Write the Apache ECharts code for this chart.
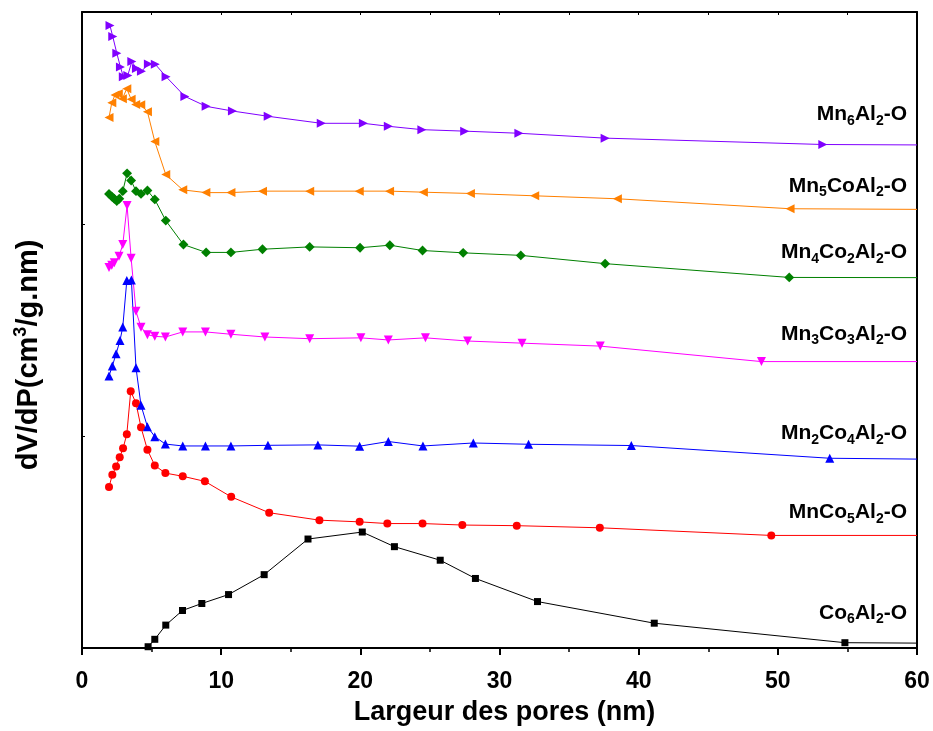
<!DOCTYPE html>
<html><head><meta charset="utf-8">
<script src="https://cdn.jsdelivr.net/npm/echarts@6/dist/echarts.min.js"></script>
<style>html,body{margin:0;padding:0;background:#fff}#c{width:933px;height:731px}</style>
</head><body><div id="c"></div>
<script>
// Pore width (nm) and dV/dP (offset, arbitrary units) per sample
const co6X = [4.75, 5.23, 6.02, 7.22, 8.61, 10.53, 13.09, 16.24, 20.14, 22.45, 25.74, 28.27, 32.73, 41.12, 54.82, 60];
const co6Y = [0.006, 0.041, 0.108, 0.177, 0.210, 0.252, 0.346, 0.514, 0.547, 0.478, 0.414, 0.328, 0.219, 0.117, 0.025, 0.023];

const mnco5X = [1.94, 2.18, 2.45, 2.71, 2.95, 3.22, 3.50, 3.88, 4.24, 4.70, 5.23, 5.99, 7.24, 8.83, 10.72, 13.45, 17.06, 19.95, 21.94, 24.47, 27.33, 31.24, 37.21, 49.53, 60];
const mnco5Y = [0.759, 0.817, 0.856, 0.900, 0.942, 1.008, 1.211, 1.155, 1.041, 0.935, 0.861, 0.825, 0.810, 0.786, 0.713, 0.638, 0.603, 0.595, 0.587, 0.587, 0.580, 0.577, 0.567, 0.531, 0.531];

const mn2co4X = [1.94, 2.18, 2.45, 2.73, 2.93, 3.22, 3.55, 3.88, 4.24, 4.70, 5.23, 5.99, 7.24, 8.87, 10.70, 13.36, 16.95, 19.95, 22.01, 24.50, 28.12, 32.09, 39.47, 53.73, 60];
const mn2co4Y = [1.283, 1.330, 1.388, 1.450, 1.514, 1.733, 1.736, 1.322, 1.145, 1.044, 0.997, 0.962, 0.953, 0.953, 0.953, 0.956, 0.958, 0.952, 0.974, 0.953, 0.967, 0.961, 0.955, 0.895, 0.891];

const mn3co3X = [1.94, 2.14, 2.32, 2.66, 2.93, 3.24, 3.53, 3.88, 4.24, 4.70, 5.23, 5.99, 7.24, 8.87, 10.70, 13.14, 16.36, 20.04, 22.01, 24.68, 27.71, 31.62, 37.24, 48.82, 60];
const mn3co3Y = [1.795, 1.806, 1.817, 1.848, 1.903, 2.087, 1.838, 1.588, 1.513, 1.478, 1.470, 1.467, 1.491, 1.491, 1.480, 1.467, 1.459, 1.463, 1.453, 1.463, 1.448, 1.438, 1.424, 1.351, 1.351];

const mn4co2X = [1.94, 2.14, 2.32, 2.50, 2.68, 2.93, 3.24, 3.53, 3.88, 4.24, 4.70, 5.23, 6.02, 7.29, 8.92, 10.70, 12.97, 16.36, 19.98, 22.12, 24.47, 27.39, 31.53, 37.59, 50.82, 60];
const mn4co2Y = [2.142, 2.130, 2.119, 2.108, 2.119, 2.155, 2.239, 2.205, 2.155, 2.142, 2.158, 2.116, 2.016, 1.903, 1.866, 1.866, 1.881, 1.892, 1.888, 1.900, 1.875, 1.864, 1.852, 1.813, 1.748, 1.747];

const mn5coX = [1.94, 2.14, 2.37, 2.61, 2.90, 3.22, 3.53, 3.86, 4.22, 4.70, 5.23, 6.02, 7.24, 8.90, 10.70, 12.97, 16.36, 19.92, 22.10, 24.53, 27.91, 32.53, 38.47, 50.88, 60];
const mn5coY = [2.502, 2.572, 2.608, 2.614, 2.591, 2.638, 2.588, 2.564, 2.563, 2.530, 2.389, 2.233, 2.161, 2.148, 2.148, 2.155, 2.155, 2.155, 2.155, 2.150, 2.144, 2.133, 2.119, 2.072, 2.069];

const mn6X = [2.01, 2.21, 2.50, 2.76, 2.97, 3.29, 3.58, 3.91, 4.27, 4.77, 5.27, 6.04, 7.39, 8.92, 10.81, 13.38, 17.19, 20.22, 22.01, 24.42, 27.50, 31.39, 37.59, 53.23, 60];
const mn6Y = [2.936, 2.884, 2.806, 2.741, 2.695, 2.701, 2.766, 2.734, 2.720, 2.755, 2.753, 2.695, 2.602, 2.555, 2.533, 2.508, 2.475, 2.475, 2.461, 2.445, 2.438, 2.428, 2.405, 2.375, 2.373];

const seriesNames = ['Co6Al2-O', 'MnCo5Al2-O', 'Mn2Co4Al2-O', 'Mn3Co3Al2-O', 'Mn4Co2Al2-O', 'Mn5CoAl2-O', 'Mn6Al2-O'];
const seriesLabelRich = [
  '{m|Co}{s|6}{m|Al}{s|2}{m|-O}',
  '{m|MnCo}{s|5}{m|Al}{s|2}{m|-O}',
  '{m|Mn}{s|2}{m|Co}{s|4}{m|Al}{s|2}{m|-O}',
  '{m|Mn}{s|3}{m|Co}{s|3}{m|Al}{s|2}{m|-O}',
  '{m|Mn}{s|4}{m|Co}{s|2}{m|Al}{s|2}{m|-O}',
  '{m|Mn}{s|5}{m|CoAl}{s|2}{m|-O}',
  '{m|Mn}{s|6}{m|Al}{s|2}{m|-O}'
];
const labelYValues = [0.165, 0.640, 1.012, 1.481, 1.866, 2.180, 2.517];

const xs = [co6X, mnco5X, mn2co4X, mn3co3X, mn4co2X, mn5coX, mn6X];
const ys = [co6Y, mnco5Y, mn2co4Y, mn3co3Y, mn4co2Y, mn5coY, mn6Y];
const colors = ['#000000', '#ff0000', '#0000ff', '#ff00ff', '#008000', '#ff8000', '#8000ff'];
const symbols = ['rect', 'circle', 'triangle', 'triangle', 'rect', 'triangle', 'triangle'];
const rotates = [0, 0, 0, 180, 45, 90, -90];
const sizes = [7, 8, 9, 9, 7, 9, 9];

const FONT = 'Liberation Sans, Arial, sans-serif';
const GRID = { left: 82, right: 16, top: 12, bottom: 79 };
const chart = echarts.init(document.getElementById('c'));

const series = xs.map((xArr, i) => ({
  name: seriesNames[i],
  type: 'line',
  data: xArr.map((x, j) => {
    const item = { value: [x, ys[i][j]] };
    if (j === xArr.length - 1) item.symbol = 'none';
    return item;
  }),
  symbol: symbols[i],
  symbolSize: sizes[i],
  symbolRotate: rotates[i],
  showAllSymbol: true,
  lineStyle: { color: colors[i], width: 1 },
  itemStyle: { color: colors[i] },
  animation: false,
  z: 3
}));

const option = {
  backgroundColor: '#ffffff',
  animation: false,
  grid: GRID,
  xAxis: [{
    type: 'value', min: 0, max: 60, interval: 10,
    name: 'Largeur des pores (nm)', nameLocation: 'middle', nameGap: 51,
    nameTextStyle: { fontSize: 27, fontWeight: 'bold', fontFamily: FONT, color: '#000', padding: [0, 0, 0, 10] },
    axisLine: { show: true, onZero: false, lineStyle: { color: '#000', width: 2 } },
    axisTick: { show: true, length: 7, lineStyle: { color: '#000', width: 2 } },
    minorTick: { show: true, splitNumber: 2, length: 4, lineStyle: { color: '#000', width: 1.5 } },
    axisLabel: { fontSize: 23, fontWeight: 'bold', fontFamily: FONT, color: '#000', margin: 22 },
    splitLine: { show: false }
  }, {
    type: 'value', min: 0, max: 60, interval: 10, position: 'top',
    axisLine: { show: true, onZero: false, lineStyle: { color: '#000', width: 2 } },
    axisTick: { show: true, inside: true, length: 3, lineStyle: { color: '#000', width: 1 } },
    minorTick: { show: true, splitNumber: 2, length: 3, lineStyle: { color: '#000', width: 1 } },
    axisLabel: { show: false },
    splitLine: { show: false }
  }],
  yAxis: [{
    type: 'value', min: 0, max: 3, interval: 1,
    name: '{a|dV/dP(cm}{b|3}{a|/g.nm)}', nameLocation: 'middle', nameGap: 36,
    nameTextStyle: {
      color: '#000',
      padding: [0, 50, 0, 0],
      rich: {
        a: { fontSize: 29, fontWeight: 'bold', fontFamily: FONT, color: '#000' },
        b: { fontSize: 18, fontWeight: 'bold', fontFamily: FONT, color: '#000', padding: [0, 0, 16, 0] }
      }
    },
    axisLine: { show: true, onZero: false, lineStyle: { color: '#000', width: 2 } },
    axisTick: { show: true, inside: true, length: 3, lineStyle: { color: '#000', width: 1 } },
    axisLabel: { show: false },
    splitLine: { show: false }
  }, {
    type: 'value', min: 0, max: 3, interval: 1, position: 'right',
    axisLine: { show: true, onZero: false, lineStyle: { color: '#000', width: 2 } },
    axisTick: { show: false },
    axisLabel: { show: false },
    splitLine: { show: false }
  }],
  series: series
};
chart.setOption(option);

// Series name labels placed at data-space heights via the y axis conversion
const graphics = seriesLabelRich.map((t, i) => {
  const p = chart.convertToPixel({ xAxisIndex: 0, yAxisIndex: 0 }, [60, labelYValues[i]]);
  return {
    type: 'text',
    x: p[0] - 10,
    y: p[1],
    style: {
      text: t,
      align: 'right',
      verticalAlign: 'middle',
      rich: {
        m: { fontSize: 21, fontWeight: 'bold', fontFamily: FONT, fill: '#000', color: '#000' },
        s: { fontSize: 14, fontWeight: 'bold', fontFamily: FONT, fill: '#000', color: '#000', padding: [13, 0, 0, 0] }
      }
    }
  };
});
chart.setOption({ graphic: graphics });
</script>
</body></html>
